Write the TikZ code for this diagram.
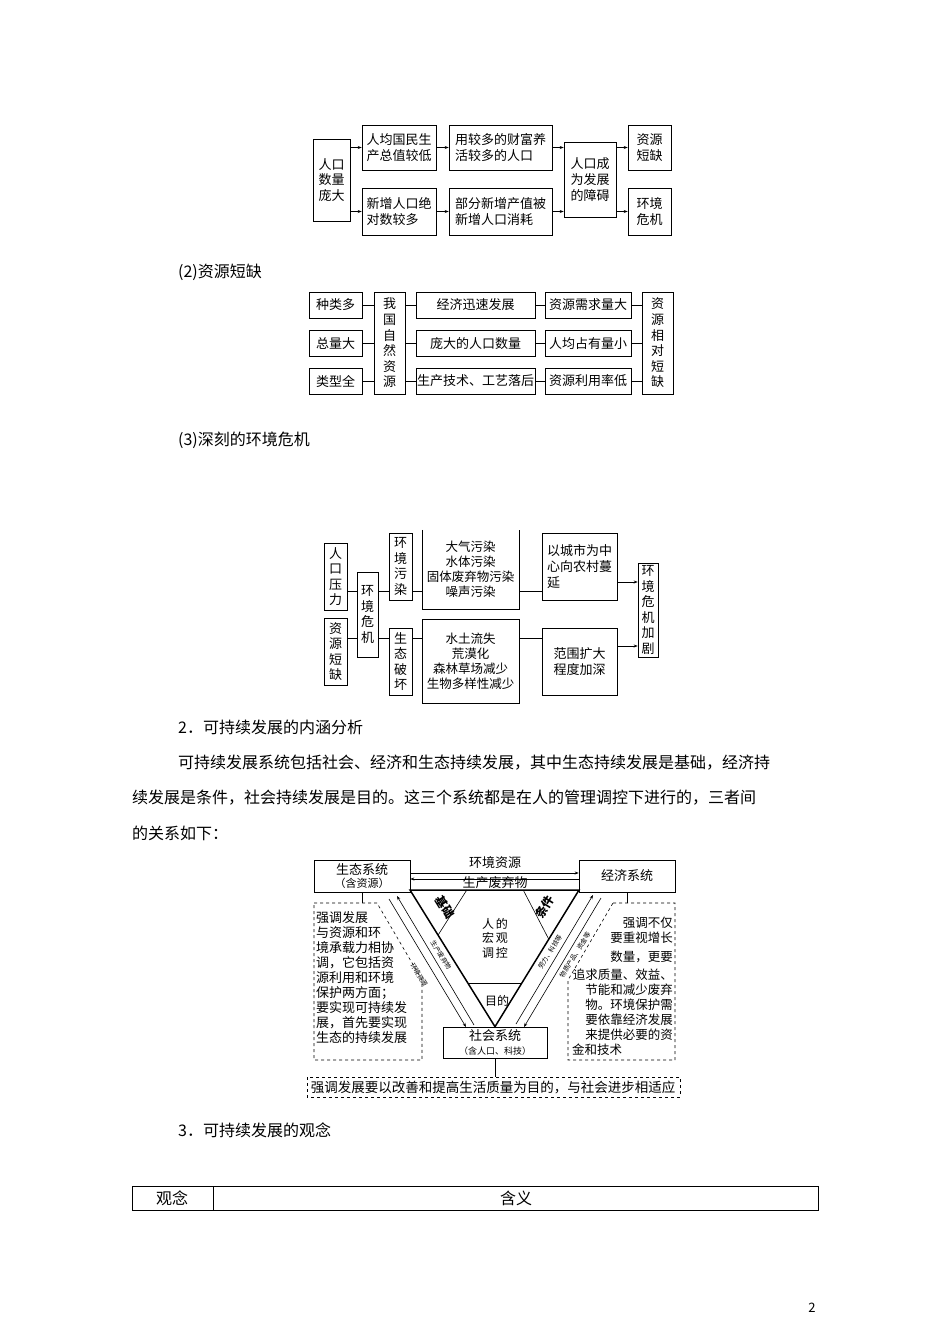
\documentclass[tikz,border=0pt]{standalone}
\usepackage{fontspec}
\setmainfont{Noto Sans CJK SC}
\usetikzlibrary{arrows.meta,calc}
\newcommand\fs[1]{\fontsize{#1}{\dimexpr #1pt*6/5\relax}\selectfont}
\begin{document}
\begin{tikzpicture}[x=1pt,y=-1pt,
  bx/.style={draw,line width=0.6pt,inner sep=1pt,font=\fs{13},align=center},
  arr/.style={line width=0.6pt,-{Stealth[length=4pt,width=3pt]}},
  ln/.style={line width=0.6pt},
  body/.style={anchor=west,font=\fs{16},inner sep=0pt},
  lt/.style={anchor=west,font=\fs{13},inner sep=0pt},
  rt/.style={anchor=east,font=\fs{12.5},inner sep=0pt},
  sm/.style={font=\fs{6.5},inner sep=0pt}]
\fill[white] (0,0) rectangle (950,1344);
\useasboundingbox (0,0) rectangle (950,1344);
% ---------- diagram 1
\node[bx,minimum width=37,minimum height=82] (a) at (331.5,180) {人口\\数量\\庞大};
\node[bx,minimum width=74,minimum height=45,align=left] (b1) at (399,147.5) {人均国民生\\产总值较低};
\node[bx,minimum width=74,minimum height=47,align=left] (b2) at (399,211.5) {新增人口绝\\对数较多};
\node[bx,minimum width=103,minimum height=45,align=left] (c1) at (500.5,147.5) {用较多的财富养\\活较多的人口};
\node[bx,minimum width=103,minimum height=47,align=left] (c2) at (500.5,211.5) {部分新增产值被\\新增人口消耗};
\node[bx,minimum width=52,minimum height=75] (d) at (590,179.5) {人口成\\为发展\\的障碍};
\node[bx,minimum width=43,minimum height=45] (e1) at (649.5,147.5) {资源\\短缺};
\node[bx,minimum width=43,minimum height=47] (e2) at (649.5,211.5) {环境\\危机};
\draw[arr] (a.east|-b1.west) -- (b1.west);
\draw[arr] (a.east|-b2.west) -- (b2.west);
\draw[arr] (b1) -- (c1);
\draw[arr] (b2) -- (c2);
\draw[arr] (c1.east) -- (d.west|-c1.east);
\draw[arr] (c2.east) -- (d.west|-c2.east);
\draw[arr] (d.east|-e1.west) -- (e1.west);
\draw[arr] (d.east|-e2.west) -- (e2.west);
\node[body] (t2) at (178,272) {(2)资源短缺};
% ---------- diagram 2
\foreach \n/\y/\sa/\ma/\ra in {1/305/种类多/经济迅速发展/资源需求量大, 2/343.5/总量大/庞大的人口数量/人均占有量小, 3/381/类型全/生产技术、工艺落后/资源利用率低}{
  \node[bx,minimum width=53,minimum height=26] (s\n) at (335.5,\y) {\sa};
  \node[bx,minimum width=119,minimum height=26] (m\n) at (475.5,\y) {\ma};
  \node[bx,minimum width=86,minimum height=26] (r\n) at (588,\y) {\ra};
}
\node[bx,minimum width=31,minimum height=102] (g) at (389.5,343) {我\\国\\自\\然\\资\\源};
\node[bx,minimum width=31,minimum height=102] (z) at (657.5,343) {资\\源\\相\\对\\短\\缺};
\foreach \n in {1,2,3}{
  \draw[ln] (s\n.east) -- (g.west|-s\n.east);
  \draw[ln] (g.east|-m\n.west) -- (m\n.west);
  \draw[ln] (m\n) -- (r\n);
  \draw[ln] (r\n.east) -- (z.west|-r\n.east);
}
\node[body] (t3) at (178,440) {(3)深刻的环境危机};
% ---------- diagram 3
\coordinate (ya) at (0,591); \coordinate (yb) at (0,638);
\coordinate (yc) at (0,582); \coordinate (yd) at (0,646);
\node[bx,minimum width=23,minimum height=67] (p1) at (335.5,576.5) {人\\口\\压\\力};
\node[bx,minimum width=23,minimum height=67] (p2) at (335.5,651.5) {资\\源\\短\\缺};
\node[bx,minimum width=21,minimum height=85] (h) at (367.5,614.5) {环\\境\\危\\机};
\node[bx,minimum width=23,minimum height=67] (w1) at (400.5,566.5) {环\\境\\污\\染};
\node[bx,minimum width=23,minimum height=67] (w2) at (400.5,661.5) {生\\态\\破\\坏};
\node[minimum width=97,minimum height=79,inner sep=1pt,font=\fs{12.5},align=center] (T1) at (470.5,569.5) {大气污染\\水体污染\\固体废弃物污染\\噪声污染};
\draw[ln] (T1.north west) -- (T1.south west) -- (T1.south east) -- (T1.north east);
\node[bx,minimum width=97,minimum height=84,font=\fs{12.5}] (T2) at (470.5,661) {水土流失\\荒漠化\\森林草场减少\\生物多样性减少};
\node[bx,minimum width=75,minimum height=67,align=left] (U1) at (579.5,566.5) {以城市为中\\心向农村蔓\\延};
\node[bx,minimum width=75,minimum height=67] (U2) at (579.5,661.5) {范围扩大\\程度加深};
\node[bx,minimum width=20,minimum height=94] (F) at (648,610) {环\\境\\危\\机\\加\\剧};
\draw[ln] (p1.east|-ya) -- (h.west|-ya);
\draw[ln] (h.east|-ya) -- (w1.west|-ya);
\draw[ln] (w1.east|-ya) -- (T1.west|-ya);
\draw[ln] (T1.east|-ya) -- (U1.west|-ya);
\draw[ln] (p2.east|-yb) -- (h.west|-yb);
\draw[ln] (h.east|-yb) -- (w2.west|-yb);
\draw[ln] (w2.east|-yb) -- (T2.west|-yb);
\draw[ln] (T2.east|-yb) -- (U2.west|-yb);
\draw[arr] (U1.east|-yc) -- (F.west|-yc);
\draw[arr] (U2.east|-yd) -- (F.west|-yd);
% ---------- text
\node[body] (t4) at (178,727) {2．可持续发展的内涵分析};
\node[body] (p1l) at (178,763) {可持续发展系统包括社会、经济和生态持续发展，其中生态持续发展是基础，经济持};
\node[body] (p2l) at (132,798) {续发展是条件，社会持续发展是目的。这三个系统都是在人的管理调控下进行的，三者间};
\node[body] (p3l) at (132,833) {的关系如下：};
% ---------- diagram 4
\node[bx,minimum width=96,minimum height=32,inner sep=0pt] (E) at (362,876) {生态系统\\[-2pt]{\fs{11}（含资源）}};
\node[bx,minimum width=96,minimum height=32] (J) at (627,876) {经济系统};
\node[bx,minimum width=104,minimum height=31,inner sep=0pt] (S) at (495,1042.5) {社会系统\\[-2pt]{\fs{9}（含人口、科技）}};
\coordinate (y1) at (0,873); \coordinate (y2) at (0,879);
\draw[arr] (E.east|-y1) -- (J.west|-y1);
\draw[arr] (J.west|-y2) -- (E.east|-y2);
\node[font=\fs{13},inner sep=0pt] (lab1) at (495,863) {环境资源};
\node[font=\fs{13},inner sep=0pt] (lab2) at (495,883) {生产废弃物};
\coordinate (tl) at (410,890); \coordinate (tr) at (579,890); \coordinate (ap) at (S.north);
\draw[line width=1.5pt] (tl) -- (tr) -- (ap) -- cycle;
\draw[ln] ($(tl)!0.336!(tr)$) -- ($(tl)!0.33!(ap)$);
\draw[ln] ($(tl)!0.67!(tr)$) -- ($(tr)!0.36!(ap)$);
\draw[ln] ($(tl)!0.686!(ap)$) -- ($(tr)!0.686!(ap)$);
\node[font=\bfseries\fs{12},rotate=-58,inner sep=0pt] (jc) at (445,907) {基础};
\node[font=\bfseries\fs{12},rotate=58,inner sep=0pt] (tj) at (545,907) {条件};
\node[font=\fs{12},align=center,inner sep=0pt] (hg) at (495,938) {人\,的\\宏\,观\\调\,控};
\node[font=\fs{12},inner sep=0pt] (md) at (497,1001) {目的};
\coordinate (l1a) at (389,899); \coordinate (l1b) at (466,1027);
\coordinate (l2a) at (474,1025); \coordinate (l2b) at (397,896);
\draw[arr] (l1a) -- (l1b);
\draw[arr] (l2a) -- (l2b);
\node[sm,rotate=-58] (ls1) at (441,955) {生产废弃物};
\node[sm,rotate=-58] (ls2) at (419,975) {环境资源};
\coordinate (r1a) at (516,1024); \coordinate (r1b) at (593,895);
\coordinate (r2a) at (601,898); \coordinate (r2b) at (524,1027);
\draw[arr] (r1a) -- (r1b);
\draw[arr] (r2a) -- (r2b);
\node[sm,rotate=58] (rs1) at (550,952) {劳力、科技等};
\node[sm,rotate=58] (rs2) at (575,955) {物质产品、资金等};
\draw[ln,dashed] (314,903) -- (377,903) -- (422,980) -- (422,1060) -- (314,1060) -- cycle;
\draw[ln,dashed] (613,903) -- (675,903) -- (675,1060) -- (568,1060) -- (568,980) -- cycle;
\draw[ln,dashed] (307,1077) rectangle (680,1097);
\coordinate (ld) at (0,903); \coordinate (bd) at (0,1077);
\draw[ln] (E.south) -- (E.south|-ld);
\draw[ln] (J.south) -- (J.south|-ld);
\draw[ln] (S.south) -- (S.south|-bd);
\foreach \t/\y in {强调发展/918, 与资源和环/933, 境承载力相协/948, 调，它包括资/963, 源利用和环境/978, 保护两方面；/993, 要实现可持续发/1008, 展，首先要实现/1023, 生态的持续发展/1038}
  \node[lt] at (316,\y) {\t};
\foreach \t/\y in {强调不仅/923, 要重视增长/938, 数量，更要/957, 追求质量、效益、/975, 节能和减少废弃/990, 物。环境保护需/1005, 要依靠经济发展/1020, 来提供必要的资/1035}
  \node[rt] at (673,\y) {\t};
\node[lt,font=\fs{12.5}] at (572,1050) {金和技术};
\node[font=\fs{13.5},inner sep=0pt] (bt) at (493,1087) {强调发展要以改善和提高生活质量为目的，与社会进步相适应};
% ---------- table
\node[body] (t5) at (178,1130) {3．可持续发展的观念};
\draw[ln] (132,1186) rectangle (818,1210);
\draw[ln] (213,1186) -- (213,1210);
\node[font=\fs{16}] (gn) at (172,1198) {观念};
\node[font=\fs{16}] (hy) at (516,1198) {含义};
\node[font=\fs{13}] (pg) at (812,1308) {2};
\end{tikzpicture}
\end{document}
